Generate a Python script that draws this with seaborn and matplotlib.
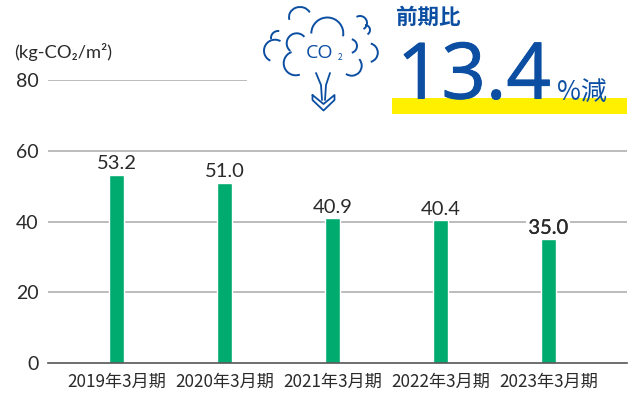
import matplotlib
matplotlib.use("Agg")
import matplotlib.pyplot as plt
import matplotlib.patheffects as pe
from matplotlib.patches import Arc, Rectangle
import seaborn as sns
import pandas as pd

# データ
years = ["2019年3月期", "2020年3月期", "2021年3月期", "2022年3月期", "2023年3月期"]
values = [53.2, 51.0, 40.9, 40.4, 35.0]
value_labels = ["53.2", "51.0", "40.9", "40.4", "35.0"]
y_ticks = [0, 20, 40, 60, 80]

sns.set_theme(style="white")
plt.rcParams["font.family"] = ["Noto Sans CJK JP", "DejaVu Sans"]

GREEN = "#00AB6F"
BLUE = "#0B4EA2"
TEXT = "#2a2a2a"
NUM_FONT = ["Lato", "Noto Sans CJK JP", "DejaVu Sans"]
W, H = 640, 395

df = pd.DataFrame({"year": years, "value": values})

fig = plt.figure(figsize=(W / 100, H / 100), dpi=100)
ax = fig.add_axes([47.5 / W, 1 - 363.2 / H, (627 - 47.5) / W, (363.2 - 80) / H])
sns.barplot(data=df, x="year", y="value", color=GREEN, width=0.143, saturation=1, ax=ax, zorder=3)
ax.set_xlim(-0.638, 4.728)
ax.set_ylim(0, 80)
ax.set_xlabel("")
ax.set_ylabel("")
ax.set_yticks(y_ticks)
ax.set_yticklabels(y_ticks, fontsize=14, color=TEXT, family=NUM_FONT)
ax.tick_params(axis="y", length=0, pad=6.5)
ax.tick_params(axis="x", length=0, pad=7, labelsize=12.3, labelcolor=TEXT)
sns.despine(ax=ax, left=True, top=True, right=True)
ax.spines["bottom"].set_color("#555555")
ax.spines["bottom"].set_linewidth(1.2)
ax.spines["bottom"].set_zorder(4)
for t in y_ticks[1:]:
    ax.axhline(t, color="#aaaaaa", lw=1.1, zorder=1)

# 値ラベル
for i, (v, s) in enumerate(zip(values, value_labels)):
    lab = ax.annotate(s, (i, v), xytext=(0, 1.8), textcoords="offset points", ha="center", va="bottom",
                      fontsize=14.5, color=TEXT, family=NUM_FONT, zorder=5,
                      bbox=dict(facecolor="white", edgecolor="none", pad=1.5))
    if i == 4:
        lab.set_path_effects([pe.withStroke(linewidth=0.2, foreground=TEXT)])

# ピクセル座標のオーバーレイ
ov = fig.add_axes([0, 0, 1, 1], facecolor="none")
ov.set_xlim(0, W)
ov.set_ylim(H, 0)
ov.axis("off")

ov.text(14, 52, "(kg-CO₂/m²)", fontsize=13.2, color=TEXT, va="center", ha="left", family=NUM_FONT)

# 80の線は途中まで
ov.add_patch(Rectangle((247, 70), 393, 15, facecolor="white", edgecolor="none", zorder=1))

# 黄色の帯
ov.add_patch(Rectangle((392, 98), 235, 16, facecolor="#FFF000", edgecolor="none", zorder=2))
ov.text(396, 17, "前期比", fontsize=15.5, color=BLUE, fontweight="bold", va="center", ha="left", zorder=3)
big = ov.text(397, 78, "13.4", fontsize=56, color=BLUE, family=["Open Sans"], va="center", ha="left", zorder=3)
big.set_path_effects([pe.withStroke(linewidth=0.7, foreground=BLUE)])
ov.text(557, 92, "%減", fontsize=18.7, color=BLUE, va="center", ha="left", zorder=3)

# CO2の雲アイコン
arcs = [
    (300, 17, 22, 20, 165, 335),
    (327.3, 33.5, 32, 32, 180, 370),
    (360, 23, 14, 14, 240, 60),
    (365, 30, 10, 10, 270, 60),
    (278, 38, 14, 14, 170, 280),
    (275, 50.7, 22, 22, 115, 300),
    (296.7, 43.3, 20, 20, 130, 320),
    (295.7, 63.3, 24, 24, 70, 250),
    (350, 46, 14, 14, 285, 75),
    (368.3, 52.7, 19, 19, 285, 75),
    (351.7, 65.7, 20, 20, 319, 125),
]
for x, y, w, h, a1, a2 in arcs:
    ov.add_patch(Arc((x, y), w, h, theta1=a1, theta2=a2, color=BLUE, lw=1.4, zorder=3))
ov.text(320, 53.5, "CO", fontsize=14, color=BLUE, va="center", ha="center", zorder=3,
        family=["Open Sans"])
ov.text(340, 57.5, "2", fontsize=6, color=BLUE, va="center", ha="center", zorder=3)
ov.plot([316, 321, 322], [73, 85, 100], color=BLUE, lw=1.3, zorder=3)
ov.plot([330, 326, 325], [73, 85, 100], color=BLUE, lw=1.3, zorder=3)
ov.plot([312.5, 312.5, 323.5, 334.5, 334.5, 323.5, 312.5], [95, 100, 110.5, 100, 95, 104, 95],
        color=BLUE, lw=1.3, zorder=3)

fig.savefig("out.png", dpi=100)
